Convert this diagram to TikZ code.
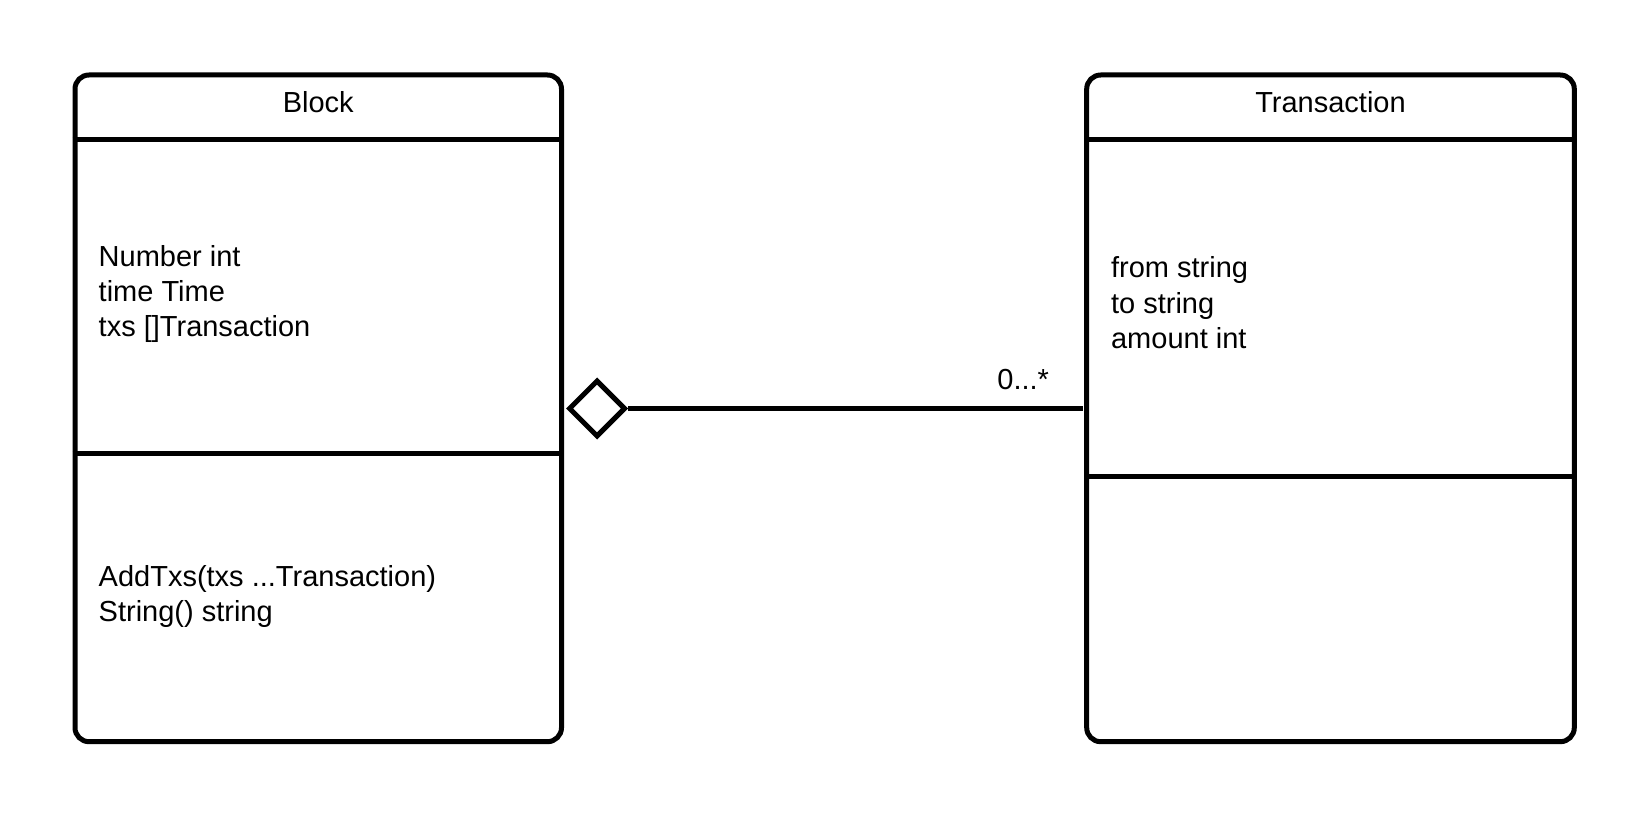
\documentclass[tikz,border=0pt]{standalone}
\usepackage{fontspec}
\setmainfont{Liberation Sans}
\usetikzlibrary{shapes.geometric}
\begin{document}
\begin{tikzpicture}[x=0.5pt,y=-0.5pt,
  umlbox/.style={draw=black, line width=2.5pt, rounded corners=7pt, rectangle,
    inner sep=0pt, minimum height=333.35pt},
  divider/.style={draw=black, line width=2.5pt},
  title/.style={font=\fontsize{14.5}{17.6}\selectfont, inner sep=0pt, anchor=base},
  members/.style={font=\fontsize{14.5}{17.6}\selectfont, inner sep=0pt, align=left, anchor=base west},
  aggdiamond/.style={shape=diamond, draw=black, line width=2.5pt, fill=white,
    inner sep=0pt, minimum width=28.5pt, minimum height=28.5pt, miter limit=10},
  assoc/.style={draw=black, line width=2.5pt}]
\useasboundingbox (0,0) rectangle (1650,818);
\fill[white] (0,0) rectangle (1650,818);

% Block class
\node[umlbox, minimum width=243.25pt] (block) at (318.25,408.35) {};
\draw[divider] (block.west |- 0,139.5) -- (block.east |- 0,139.5);
\draw[divider] (block.west |- 0,453) -- (block.east |- 0,453);
\node[title] (blocktitle) at (318.25,113) {Block};
\node[members] (blockattrs) at (98.3,336.7) {Number int\\time Time\\txs []Transaction};
\node[members] (blockops) at (98.3,621.7) {AddTxs(txs ...Transaction)\\String() string};

% Transaction class
\node[umlbox, minimum width=243.8pt] (trans) at (1330.5,408.35) {};
\draw[divider] (trans.west |- 0,140) -- (trans.east |- 0,140);
\draw[divider] (trans.west |- 0,476) -- (trans.east |- 0,476);
\node[title] (transtitle) at (1330.5,113) {Transaction};
\node[members] (transattrs) at (1110.7,348.3) {from string\\to string\\amount int};

% Aggregation
\node[aggdiamond] (dia) at (597,408.5) {};
\draw[assoc, shorten >=0.75pt] (dia.east) -- (dia.east -| trans.west);
\node[members] (mult) at (997,389) {0...*};
\end{tikzpicture}
\end{document}
